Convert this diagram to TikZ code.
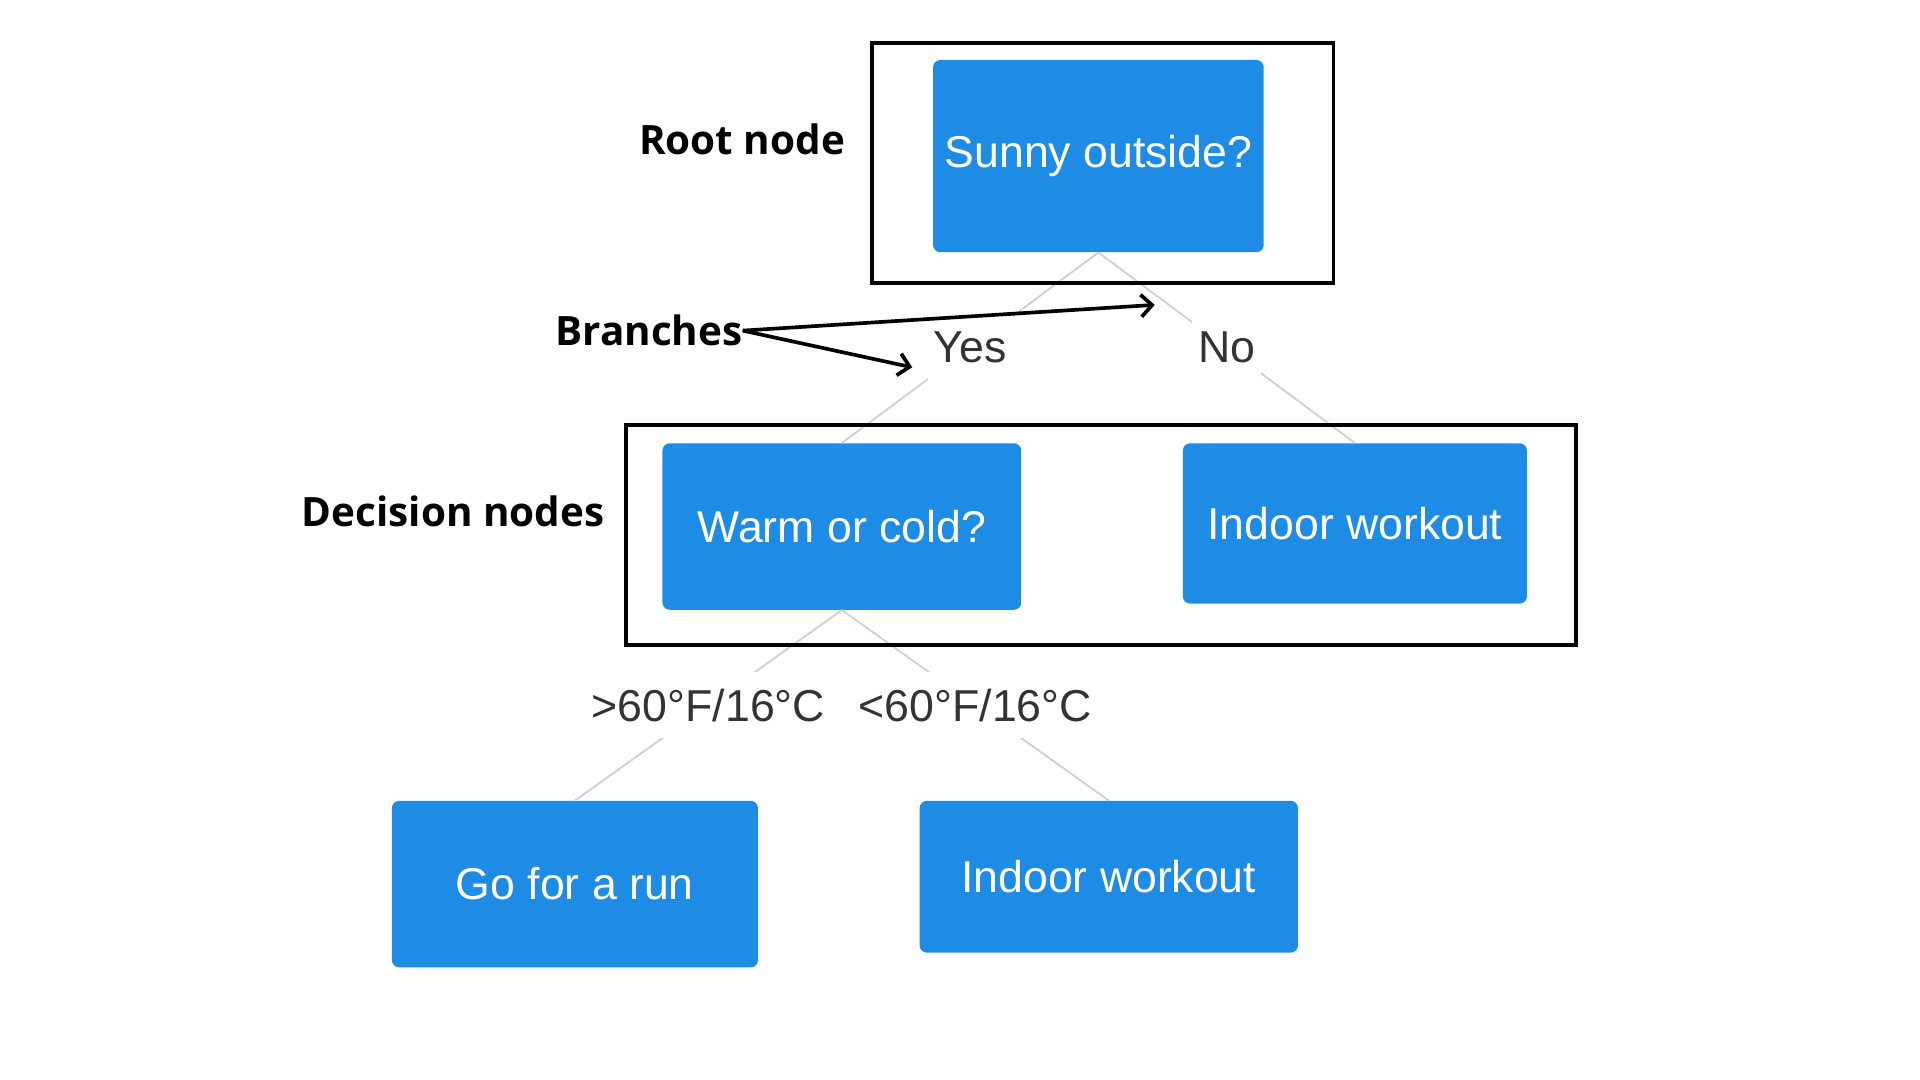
\documentclass[tikz,border=0pt]{standalone}
\usepackage{fontspec}
\setmainfont{Liberation Sans}
\newfontfamily\calloutfont{Open Sans}
\usetikzlibrary{arrows.meta}
\definecolor{boxblue}{RGB}{30,139,228}
\definecolor{linegray}{RGB}{208,208,208}
\definecolor{labgray}{RGB}{51,51,51}
\begin{document}
\begin{tikzpicture}[x=1pt,y=-1pt,
  leaf/.style={draw=none, fill=boxblue, rounded corners=6pt, text=white,
    font=\fontsize{36.4}{40}\selectfont, inner sep=0pt},
  conn/.style={draw=linegray, line width=1.5pt},
  brlbl/.style={fill=white, text=labgray, font=\fontsize{36.5}{40}\selectfont,
    inner xsep=5pt, inner ysep=0pt, minimum height=54pt},
  frame/.style={draw=black, line width=3pt, inner sep=0pt},
  callout/.style={font=\calloutfont\bfseries\fontsize{33}{38}\selectfont, inner sep=0pt},
  pointer/.style={draw=black, line width=3pt,
    -{Straight Barb[length=9pt, width=18pt, line width=3pt]}}
]
\useasboundingbox (0,0) rectangle (1568,882);

% tree nodes
\node[leaf, minimum width=270pt, minimum height=157pt] (sunny) at (897,127.5) {Sunny outside?};
\node[leaf, minimum width=293pt, minimum height=136pt] (warm) at (687.5,430) {Warm or cold?};
\node[leaf, minimum width=281pt, minimum height=131pt] (indoorA) at (1106.5,427.5) {Indoor workout};
\node[leaf, minimum width=299pt, minimum height=136pt] (run) at (469.5,722) {Go for a run};
\node[leaf, minimum width=309pt, minimum height=124pt] (indoorB) at (905.5,716) {Indoor workout};

% branches
\draw[conn] (sunny.south) -- node[brlbl] (yes) {Yes} (warm.north);
\draw[conn] (sunny.south) -- node[brlbl] (no) {No} (indoorA.north);
\draw[conn] (warm.south) -- node[brlbl] (warmlbl) {>60°F/16°C} (run.north);
\draw[conn] (warm.south) -- node[brlbl] (coldlbl) {<60°F/16°C} (indoorB.north);

% frames
\node[frame, minimum width=377pt, minimum height=196pt] (rootframe) at (900.5,133) {};
\node[frame, minimum width=776pt, minimum height=180pt] (decframe) at (899,437) {};

% callouts
\node[callout] (rootlbl) at (606,114) {Root node};
\node[callout] (branches) at (530,270) {Branches};
\node[callout] (declbl) at (370,418) {Decision nodes};

\coordinate (toNo) at (943,249);
\coordinate (toYes) at (745,300);
\draw[pointer] (branches.east) -- (toNo);
\draw[pointer] (branches.east) -- (toYes);
\end{tikzpicture}
\end{document}
